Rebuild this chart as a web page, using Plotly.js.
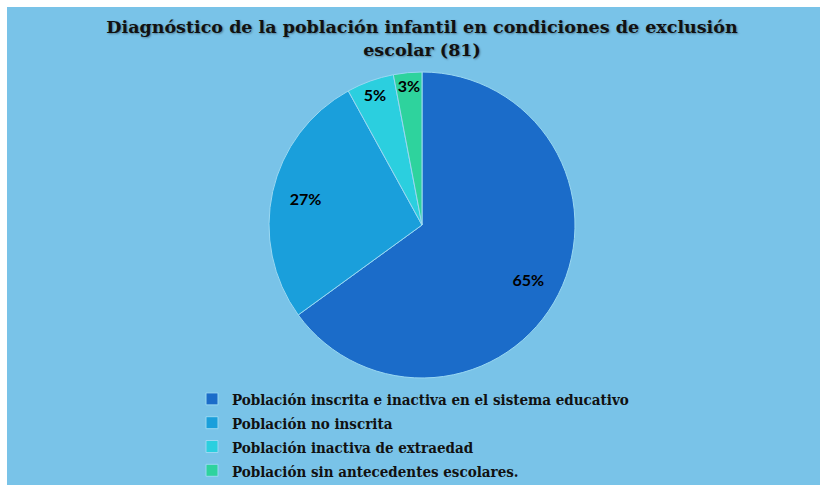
<!DOCTYPE html>
<html>
<head>
<meta charset="utf-8">
<script src="https://cdn.plot.ly/plotly-3.0.1.min.js"></script>
<style>
  html, body { margin: 0; padding: 0; background: #ffffff; }
  #wrap { position: absolute; left: 7px; top: 7px; width: 813px; height: 478px; }
  .gtitle { text-shadow: 1px 1px 2px rgba(0,0,0,0.35); }
</style>
</head>
<body>
<div id="wrap"></div>
<script>
const titleText = "Diagnóstico de la población infantil en condiciones de exclusión<br>escolar (81)";
const categories = [
  "Población inscrita e inactiva en el sistema educativo",
  "Población no inscrita",
  "Población inactiva de extraedad",
  "Población sin antecedentes escolares."
];
const percentages = [65, 27, 5, 3];
const sliceColors = ["#1B6CC9", "#1A9FDB", "#2BCFDF", "#2ED39D"];

const W = 813, H = 478;
const cx = 415, cy = 218, r = 153;
const dom = { x: [(cx - r) / W, (cx + r) / W], y: [1 - (cy + r) / H, 1 - (cy - r) / H] };
const pctFont = { family: "Lato, 'Open Sans', sans-serif", size: 16, color: "#000000", weight: 700 };
const clear = percentages.map(() => "rgba(0,0,0,0)");

const legendLabels = categories.map(c => '<span style="font-size:15px">' + c + '</span>');

const mainPie = {
  type: "pie",
  labels: legendLabels,
  values: percentages,
  sort: false,
  direction: "clockwise",
  rotation: 0,
  marker: { colors: sliceColors, line: { color: "#9ad8f2", width: 1 } },
  textinfo: "none",
  domain: dom,
  hoverinfo: "skip"
};

// text-only rings (same values) so the percentages sit toward the rim
const textRingBig = {
  type: "pie",
  labels: legendLabels,
  values: percentages,
  sort: false,
  direction: "clockwise",
  rotation: 0,
  hole: 0.56,
  showlegend: false,
  marker: { colors: clear, line: { width: 0 } },
  texttemplate: ["%{value}%", "%{value}%", "", ""],
  textposition: "inside",
  insidetextorientation: "horizontal",
  textfont: pctFont,
  domain: dom,
  hoverinfo: "skip"
};
const textRingSmall = Object.assign({}, textRingBig, {
  hole: 0.82,
  texttemplate: ["", "", "%{value}%", "%{value}%"]
});

const layout = {
  width: W, height: H,
  paper_bgcolor: "#79C3E8",
  plot_bgcolor: "#79C3E8",
  margin: { l: 0, r: 0, t: 0, b: 0, autoexpand: false },
  uniformtext: { minsize: 16, mode: "show" },
  title: {
    text: titleText,
    font: { family: "'DejaVu Serif', serif", size: 17.5, color: "#111111", weight: 700 },
    x: 415 / W, xanchor: "center", xref: "paper",
    y: 1 - 26 / H, yanchor: "top", yref: "container"
  },
  showlegend: true,
  legend: {
    x: 185 / W, xanchor: "left",
    y: 1 - 375 / H, yanchor: "top",
    orientation: "v",
    bgcolor: "rgba(0,0,0,0)",
    font: { family: "'DejaVu Serif Condensed', 'DejaVu Serif', serif", size: 16, color: "#111111", weight: 700 }
  }
};

Plotly.newPlot("wrap", [mainPie, textRingBig, textRingSmall], layout, { displayModeBar: false, staticPlot: true });
</script>
</body>
</html>
